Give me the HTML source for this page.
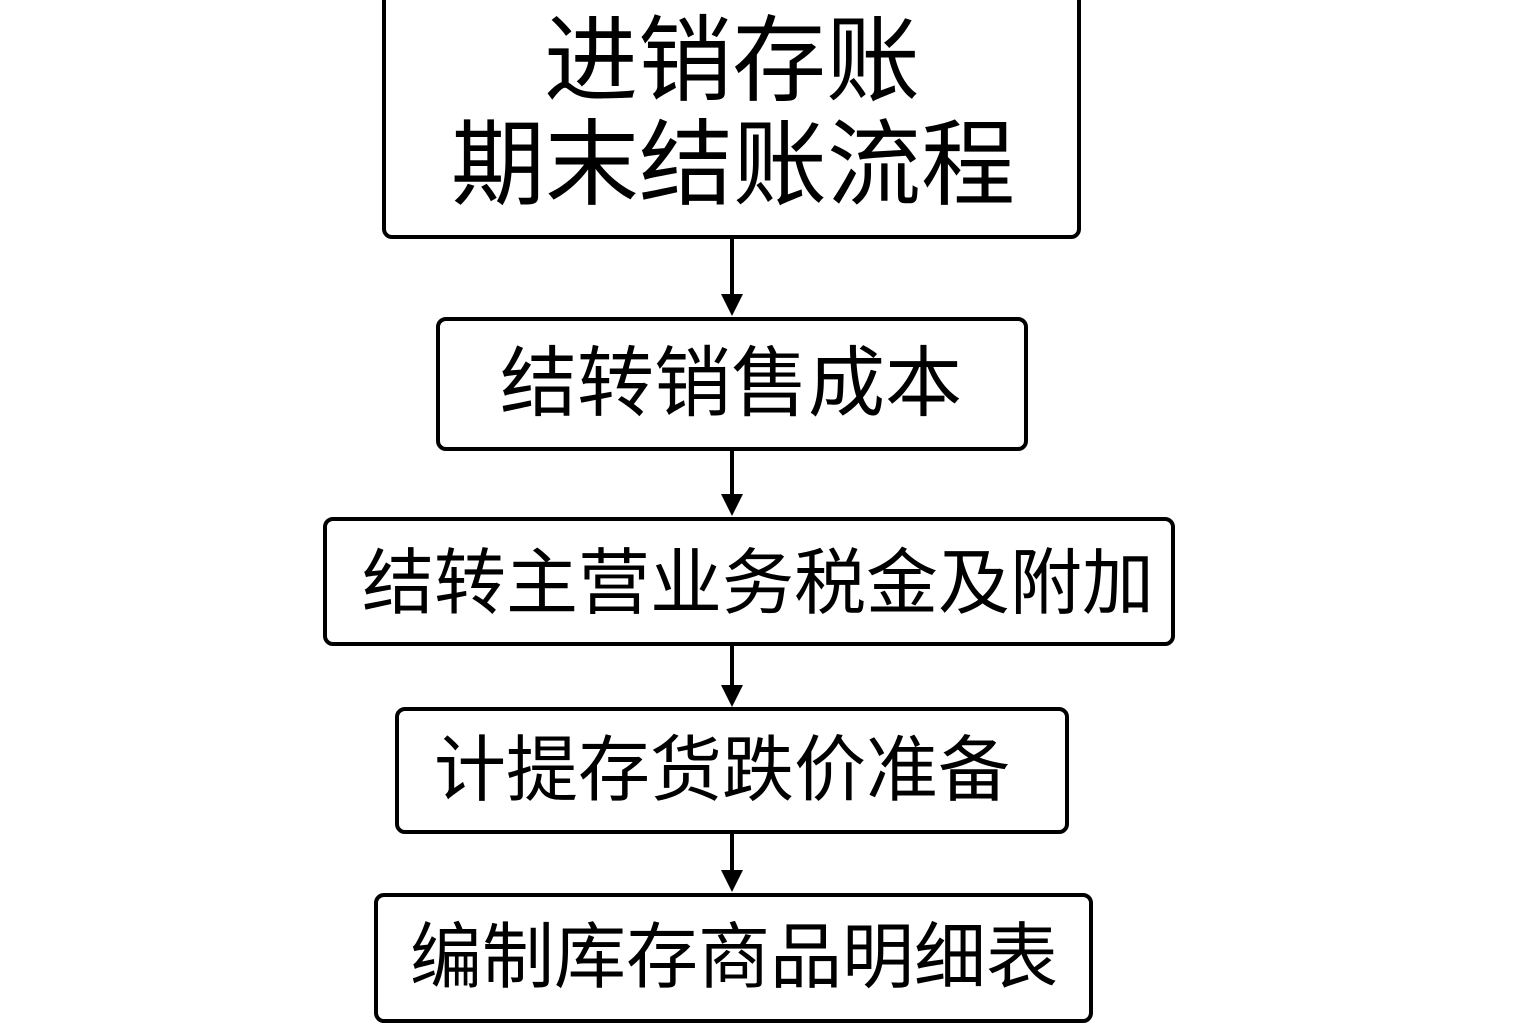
<!DOCTYPE html>
<html><head><meta charset="utf-8"><style>
html,body{margin:0;padding:0;background:#fff;}
body{width:1536px;height:1024px;position:relative;overflow:hidden;font-family:"Liberation Sans","Noto Sans CJK SC",sans-serif;color:#000;}
.b{position:absolute;border:4px solid #000;border-radius:10px;box-sizing:border-box;}
.t{position:absolute;white-space:nowrap;line-height:1;}
.v{position:absolute;left:730px;width:4px;background:#000;}
.h{position:absolute;left:721px;width:0;height:0;border-left:11px solid transparent;border-right:11px solid transparent;border-top:22px solid #000;}
</style></head><body>
<div class="b" style="left:382px;top:-10px;width:699px;height:249px"></div>
<div class="t" style="left:544px;top:14px;font-size:94px">进销存账</div>
<div class="t" style="left:451px;top:118px;font-size:94px">期末结账流程</div>
<div class="v" style="top:238px;height:60px"></div><div class="h" style="top:294px"></div>

<div class="b" style="left:436px;top:317px;width:592px;height:134px"></div>
<div class="t" style="left:500px;top:346px;font-size:77px">结转销售成本</div>
<div class="v" style="top:450px;height:46px"></div><div class="h" style="top:494px"></div>

<div class="b" style="left:323px;top:517px;width:852px;height:129px"></div>
<div class="t" style="left:362px;top:548px;font-size:72px">结转主营业务税金及附加</div>
<div class="v" style="top:645px;height:42px"></div><div class="h" style="top:685px"></div>

<div class="b" style="left:395px;top:707px;width:674px;height:127px"></div>
<div class="t" style="left:434px;top:735px;font-size:72px">计提存货跌价准备</div>
<div class="v" style="top:833px;height:40px"></div><div class="h" style="top:870px"></div>

<div class="b" style="left:374px;top:893px;width:719px;height:130px"></div>
<div class="t" style="left:410px;top:922px;font-size:72px">编制库存商品明细表</div>
</body></html>
